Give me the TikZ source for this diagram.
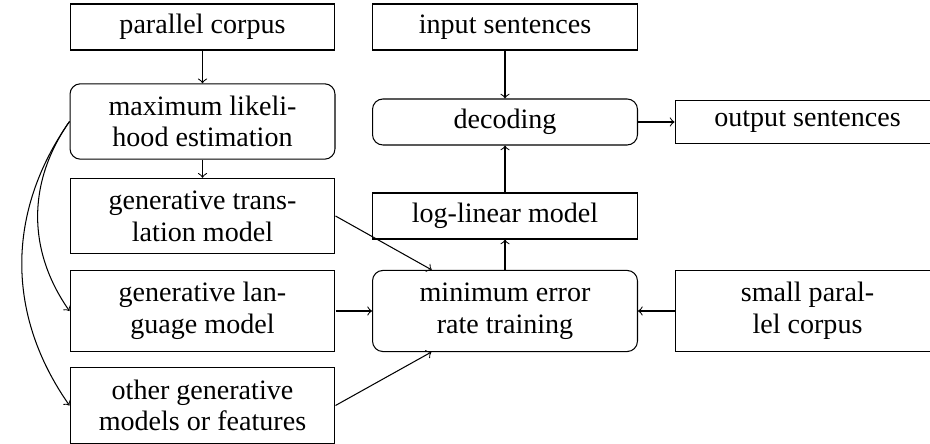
\documentclass[tikz,border=0pt]{standalone}
\usepackage{fontspec}
\setmainfont{Liberation Serif}
\begin{document}
\begin{tikzpicture}[x=0.3846pt,y=-0.3846pt,
  box/.style={draw, minimum width=101.9pt, align=center, inner sep=0pt, font=\fontsize{10.8}{12.2}\selectfont},
  rbox/.style={box, rounded corners=4pt},
  one/.style={minimum height=17.7pt},
  two/.style={minimum height=29pt},
  tall/.style={minimum height=31.2pt},
  conn/.style={->, line width=0.4pt}]
\useasboundingbox (0,0) rectangle (930,444);
\clip (0,0) rectangle (930,444);
% left column
\node[box,one]  (pc)   at (202.5,27)    {parallel corpus};
\node[rbox,two] (mle)  at (202.5,121.5) {maximum likeli-\\hood estimation};
\node[box,two]  (gt)   at (202.5,216)   {generative trans-\\lation model};
\node[box,tall] (lm)   at (202.5,311)   {generative lan-\\guage model};
\node[box,two]  (og)   at (202.5,405.5) {other generative\\models or features};
% middle column
\node[box,one]  (ins)  at (505,27)      {input sentences};
\node[rbox,one] (dec)  at (505,122)     {decoding};
\node[box,one]  (ll)   at (505,216)     {log-linear model};
\node[rbox,tall](mert) at (505,311)     {minimum error\\rate training};
% right column
\node[box,minimum height=16.2pt] (out) at (807.5,122) {output sentences};
\node[box,tall] (spc)  at (807.5,311)   {small paral-\\lel corpus};
% connectors
\draw[conn] (pc) -- (mle);
\draw[conn] (mle) -- (gt);
\draw[conn] (mle.west) to[bend right=35] (lm.west);
\draw[conn] (mle.west) to[bend right=35] (og.west);
\draw[conn] (ins) -- (dec);
\draw[conn] (dec) -- (out);
\draw[conn] (ll) -- (dec);
\draw[conn] (mert) -- (ll);
\draw[conn] (gt.east) -- (mert);
\draw[conn] (lm) -- (mert);
\draw[conn] (og.east) -- (mert);
\draw[conn] (spc) -- (mert);
\end{tikzpicture}
\end{document}
